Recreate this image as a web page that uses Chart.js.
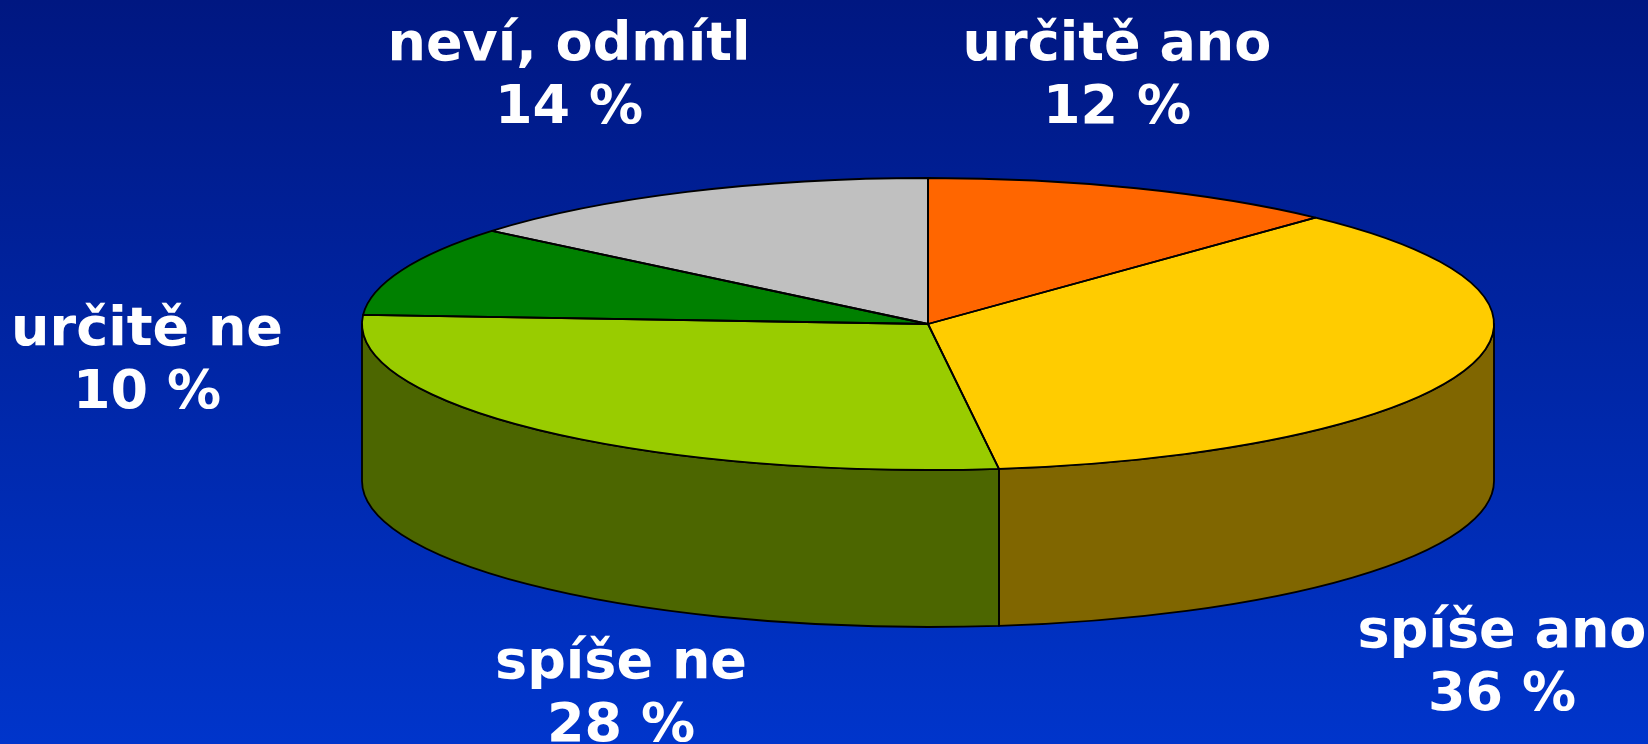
<!DOCTYPE html>
<html>
<head>
<meta charset="utf-8">
<script src="https://cdn.jsdelivr.net/npm/chart.js@4"></script>
<style>
  html, body { margin: 0; padding: 0; background: #0026a0; overflow: hidden; }
  canvas { display: block; }
</style>
</head>
<body>
<canvas id="pieChart" width="1648" height="744"></canvas>
<script>
// data
const categories = ["určitě ano", "spíše ano", "spíše ne", "určitě ne", "neví, odmítl"];
const shares = [12, 36, 28, 10, 14];

// styles
const topColors = ["#FF6600", "#FFCC00", "#99CC00", "#008000", "#C0C0C0"];
const sideColors = ["#803300", "#806600", "#4C6600", "#004000", "#606060"];

// where the squashed pie sits on the page (ellipse of the top face + wall depth)
const pieBox = { cx: 928, cy: 324, rx: 566, ry: 146, depth: 157 };
// hand-placed label anchors (centre x, first baseline)
const labelPos = [
  { x: 1117, y: 60 },
  { x: 1502, y: 647 },
  { x: 621, y: 678 },
  { x: 147, y: 345 },
  { x: 569, y: 60 },
];
const lineGap = 63;

const squash = (ctx, arc) => {
  ctx.translate(pieBox.cx, pieBox.cy);
  ctx.scale(pieBox.rx / arc.outerRadius, pieBox.ry / arc.outerRadius);
  ctx.translate(-arc.x, -arc.y);
};

const pie3d = {
  id: "pie3d",
  beforeDraw(chart) {
    const ctx = chart.ctx;
    const g = ctx.createLinearGradient(0, 0, 0, chart.height);
    g.addColorStop(0, "#001781");
    g.addColorStop(1, "#0035CB");
    ctx.save();
    ctx.fillStyle = g;
    ctx.fillRect(0, 0, chart.width, chart.height);
    ctx.restore();
  },
  beforeDatasetsDraw(chart) {
    const ctx = chart.ctx;
    const arcs = chart.getDatasetMeta(0).data;
    const { cx, cy, rx, ry, depth } = pieBox;
    // front wall, only the part facing the viewer (angles 0..PI)
    arcs.forEach((arc, i) => {
      const a0 = Math.max(arc.startAngle, 0);
      const a1 = Math.min(arc.endAngle, Math.PI);
      if (a1 <= a0) return;
      ctx.save();
      ctx.beginPath();
      ctx.ellipse(cx, cy, rx, ry, 0, a0, a1, false);
      ctx.ellipse(cx, cy + depth, rx, ry, 0, a1, a0, true);
      ctx.closePath();
      ctx.fillStyle = sideColors[i];
      ctx.fill();
      ctx.lineWidth = 1.8;
      ctx.strokeStyle = "#000";
      ctx.lineJoin = "round";
      ctx.stroke();
      ctx.restore();
    });
    ctx.save();
    squash(ctx, arcs[0]);
  },
  afterDatasetsDraw(chart) {
    const ctx = chart.ctx;
    ctx.restore();
    const arcs = chart.getDatasetMeta(0).data;
    // outlines of the top face, stroked without the squash so lines stay even
    arcs.forEach((arc) => {
      ctx.save();
      squash(ctx, arc);
      ctx.beginPath();
      ctx.moveTo(arc.x, arc.y);
      ctx.arc(arc.x, arc.y, arc.outerRadius, arc.startAngle, arc.endAngle);
      ctx.closePath();
      ctx.restore();
      ctx.lineWidth = 1.8;
      ctx.strokeStyle = "#000";
      ctx.lineJoin = "round";
      ctx.stroke();
    });
    // labels
    ctx.save();
    ctx.fillStyle = "#fff";
    ctx.font = "bold 54px 'DejaVu Sans'";
    ctx.textAlign = "center";
    ctx.textBaseline = "alphabetic";
    categories.forEach((name, i) => {
      const p = labelPos[i];
      ctx.fillText(name, p.x, p.y);
      ctx.fillText(shares[i] + " %", p.x, p.y + lineGap);
    });
    ctx.restore();
  },
};

new Chart(document.getElementById("pieChart").getContext("2d"), {
  type: "pie",
  data: {
    labels: categories,
    datasets: [
      {
        data: shares,
        backgroundColor: topColors,
        borderWidth: 0,
        clip: false,
      },
    ],
  },
  options: {
    responsive: false,
    animation: false,
    events: [],
    layout: { padding: 0 },
    plugins: {
      legend: { display: false },
      tooltip: { enabled: false },
    },
  },
  plugins: [pie3d],
});
</script>
</body>
</html>
